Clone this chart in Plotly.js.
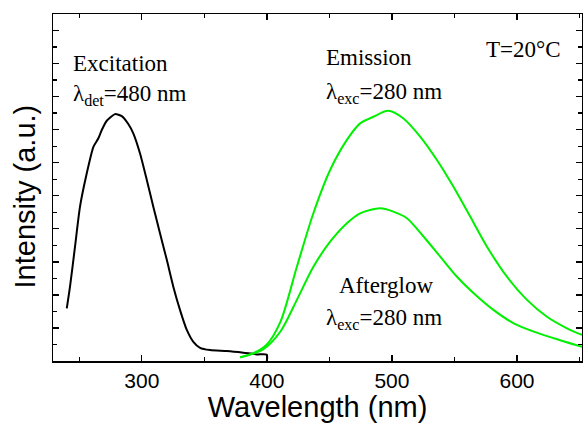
<!DOCTYPE html>
<html>
<head>
<meta charset="utf-8">
<script src="https://cdn.plot.ly/plotly-3.0.1.min.js"></script>
<style>html,body{margin:0;padding:0;background:#fff;}#chart{width:583px;height:423px;}</style>
</head>
<body>
<div id="chart"></div>
<script>
// Excitation spectrum (detected at 480 nm)
const excX = [240, 242.6, 246.6, 250.6, 256, 261.3, 265.3, 268, 272, 278.6, 284, 289.2, 293.2, 298.6, 304, 309.2, 314.6, 320, 325.2, 330.6, 336, 341.2, 346.6, 354.6, 368, 381.2, 392, 400, 400];
const excY = [1.59, 2.25, 3.46, 4.67, 5.68, 6.48, 6.74, 6.99, 7.27, 7.47, 7.41, 7.17, 6.89, 6.28, 5.48, 4.67, 3.86, 3.06, 2.25, 1.54, 0.94, 0.58, 0.40, 0.33, 0.30, 0.25, 0.20, 0.19, 0.0];

// Emission spectrum (excited at 280 nm)
const emiX = [378.6, 389, 400, 411, 424, 437.2, 450.6, 464, 474.6, 485.2, 497, 509.2, 522.6, 536, 549.2, 562.6, 576, 592, 608, 624, 640, 652];
const emiY = [0.11, 0.23, 0.50, 1.20, 2.85, 4.47, 5.78, 6.69, 7.19, 7.39, 7.57, 7.34, 6.79, 6.08, 5.27, 4.37, 3.46, 2.55, 1.85, 1.34, 0.99, 0.79];

// Afterglow spectrum (excited at 280 nm)
const aftX = [378.6, 397, 411, 424, 437.2, 450.6, 464, 474.6, 490.6, 501.2, 512, 525.4, 538.6, 552, 565.4, 581.4, 597.4, 613.4, 629.4, 652];
const aftY = [0.11, 0.35, 0.90, 1.85, 2.85, 3.61, 4.17, 4.47, 4.62, 4.52, 4.32, 3.76, 3.16, 2.55, 2.05, 1.54, 1.14, 0.89, 0.69, 0.43];

const xTitle = "Wavelength (nm)";
const yTitle = "Intensity (a.u.)";

const serif = "Liberation Serif, Times New Roman, serif";
const sans = "Liberation Sans, Arial, sans-serif";

const traces = [
  {x: excX, y: excY, mode: "lines", line: {color: "#000000", width: 2, shape: "spline", smoothing: 0.6}, hoverinfo: "skip"},
  {x: emiX, y: emiY, mode: "lines", line: {color: "#00f000", width: 2, shape: "spline", smoothing: 0.8}, hoverinfo: "skip"},
  {x: aftX, y: aftY, mode: "lines", line: {color: "#00f000", width: 2, shape: "spline", smoothing: 0.8}, hoverinfo: "skip"}
];

function ann(x, y, text) {
  return {x: x, y: y, xref: "x", yref: "y", text: text, showarrow: false, xanchor: "left", yanchor: "middle",
          font: {family: serif, size: 23, color: "#000"}};
}
const sub = s => '<sub>' + s + '</sub>';

const layout = {
  width: 583, height: 423,
  margin: {l: 53, r: 1, t: 14, b: 62},
  paper_bgcolor: "#fff", plot_bgcolor: "#fff",
  showlegend: false,
  xaxis: {
    range: [229, 652], dtick: 100, tick0: 300,
    ticks: "inside", ticklen: 6, tickwidth: 1.3, tickcolor: "#000",
    minor: {dtick: 50, ticks: "inside", ticklen: 4, tickwidth: 1.3, tickcolor: "#000"},
    showline: true, linecolor: "#000", linewidth: 1.5, mirror: "ticks",
    showgrid: false, zeroline: false,
    tickfont: {family: sans, size: 21, color: "#000"},
    title: {text: xTitle, font: {family: sans, size: 29, color: "#000"}, standoff: 4}
  },
  yaxis: {
    range: [0, 10.5], dtick: 1, tick0: 0,
    ticks: "inside", ticklen: 6, tickwidth: 1.3, tickcolor: "#000",
    minor: {dtick: 0.5, ticks: "inside", ticklen: 4, tickwidth: 1.3, tickcolor: "#000"},
    showline: true, linecolor: "#000", linewidth: 1.5, mirror: "ticks",
    showgrid: false, zeroline: false, showticklabels: false
  },
  annotations: [
    ann(243.5, 8.99, "Excitation"),
    ann(243.5, 8.05, "λ" + sub("det") + "=480 nm"),
    ann(445.8, 9.17, "Emission"),
    ann(445.8, 8.11, "λ" + sub("exc") + "=280 nm"),
    ann(573.8, 9.44, "T=20°C"),
    ann(456.2, 2.27, "Afterglow"),
    ann(445.8, 1.27, "λ" + sub("exc") + "=280 nm"),
    {x: -0.053, y: 0.474, xref: "paper", yref: "paper", text: yTitle, textangle: -90, showarrow: false,
     xanchor: "center", yanchor: "middle", font: {family: sans, size: 29, color: "#000"}}
  ]
};

Plotly.newPlot("chart", traces, layout, {staticPlot: true, displayModeBar: false});
</script>
</body>
</html>
